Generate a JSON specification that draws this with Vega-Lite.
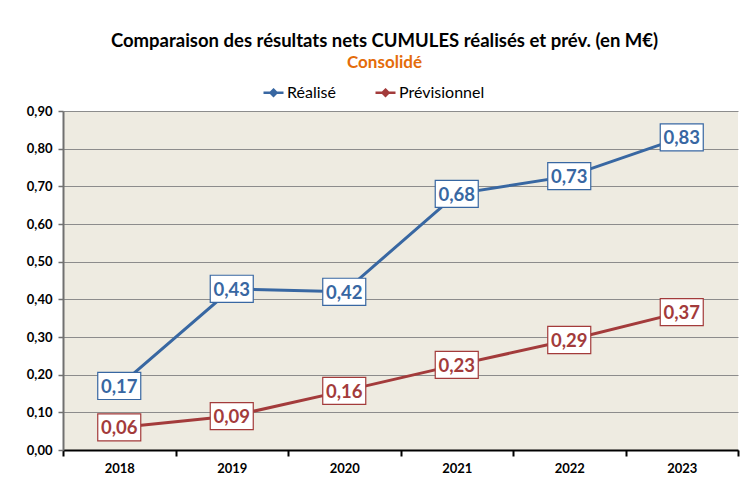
{
  "$schema": "https://vega.github.io/schema/vega-lite/v6.json",
  "width": 675,
  "height": 339,
  "autosize": {"type": "none"},
  "padding": {"left": 63, "top": 111, "right": 7, "bottom": 39},
  "background": "white",
  "title": {
    "text": "Comparaison des résultats nets CUMULES réalisés et prév. (en M€)",
    "subtitle": "Consolidé",
    "font": "Lato",
    "fontSize": 18.5,
    "fontWeight": "bold",
    "color": "black",
    "subtitleFont": "Lato",
    "subtitleFontSize": 17,
    "subtitleFontWeight": "bold",
    "subtitleColor": "#E46C0A",
    "subtitlePadding": 5,
    "anchor": "middle",
    "dx": -16,
    "offset": 10
  },
  "data": {
    "values": [
      {"annee": "2018", "serie": "Réalisé", "valeur": 0.17},
      {"annee": "2019", "serie": "Réalisé", "valeur": 0.428},
      {"annee": "2020", "serie": "Réalisé", "valeur": 0.42},
      {"annee": "2021", "serie": "Réalisé", "valeur": 0.68},
      {"annee": "2022", "serie": "Réalisé", "valeur": 0.727},
      {"annee": "2023", "serie": "Réalisé", "valeur": 0.83},
      {"annee": "2018", "serie": "Prévisionnel", "valeur": 0.06},
      {"annee": "2019", "serie": "Prévisionnel", "valeur": 0.09},
      {"annee": "2020", "serie": "Prévisionnel", "valeur": 0.157},
      {"annee": "2021", "serie": "Prévisionnel", "valeur": 0.226},
      {"annee": "2022", "serie": "Prévisionnel", "valeur": 0.292},
      {"annee": "2023", "serie": "Prévisionnel", "valeur": 0.366}
    ]
  },
  "encoding": {
    "x": {
      "field": "annee",
      "type": "ordinal",
      "title": null,
      "scale": {"type": "band", "paddingInner": 0, "paddingOuter": 0},
      "axis": {
        "labelAngle": 0,
        "tickBand": "extent",
        "domainColor": "black",
        "domainWidth": 2,
        "tickColor": "black",
        "tickWidth": 2,
        "tickSize": 6,
        "labelFont": "Lato",
        "labelFontSize": 13,
        "labelFontWeight": "bold",
        "labelColor": "black",
        "labelPadding": 6,
        "grid": false
      }
    },
    "y": {
      "field": "valeur",
      "type": "quantitative",
      "title": null,
      "scale": {"domain": [0, 0.9], "nice": false},
      "axis": {
        "values": [0, 0.1, 0.2, 0.3, 0.4, 0.5, 0.6, 0.7, 0.8, 0.9],
        "format": ".2f",
        "domainColor": "#707070",
        "domainWidth": 2,
        "tickColor": "#707070",
        "tickWidth": 1.5,
        "tickSize": 5,
        "labelFont": "Lato",
        "labelFontSize": 13,
        "labelFontWeight": "bold",
        "labelColor": "black",
        "labelPadding": 6,
        "grid": true,
        "gridColor": "#8C8C8C",
        "gridWidth": 1
      }
    },
    "color": {
      "field": "serie",
      "type": "nominal",
      "scale": {"domain": ["Réalisé", "Prévisionnel"], "range": ["#3867A2", "#A33B3B"]},
      "legend": {
        "title": null,
        "orient": "none",
        "direction": "horizontal",
        "legendX": 199,
        "legendY": -30,
        "symbolType": "M-1,0H1M0,-0.3L0.3,0L0,0.3L-0.3,0Z",
        "symbolSize": 400,
        "symbolStrokeWidth": 2.5,
        "labelFont": "Lato",
        "labelFontSize": 16,
        "labelColor": "black",
        "labelOffset": 2,
        "columnPadding": 34,
        "encode": {"symbols": {"update": {"fill": {"scale": "color", "field": "value"}}}}
      }
    }
  },
  "layer": [
    {"mark": {"type": "line", "strokeWidth": 3}},
    {
      "mark": {
        "type": "point",
        "shape": "M-1,-0.63H1V0.63H-1Z",
        "size": 1850,
        "filled": true,
        "fill": "white",
        "strokeWidth": 1.2,
        "opacity": 1
      },
      "encoding": {"stroke": {"field": "serie", "type": "nominal", "legend": null, "scale": {"domain": ["Réalisé", "Prévisionnel"], "range": ["#3867A2", "#A33B3B"]}}}
    },
    {
      "mark": {"type": "text", "font": "Lato", "fontSize": 18.5, "fontWeight": "bold", "baseline": "middle", "align": "center", "dy": 1},
      "encoding": {"text": {"field": "valeur", "type": "quantitative", "format": ".2f"}}
    }
  ],
  "config": {
    "locale": {"number": {"decimal": ",", "thousands": " ", "grouping": [3], "currency": ["", " €"]}},
    "view": {"fill": "#EEEBE1", "stroke": null}
  }
}
